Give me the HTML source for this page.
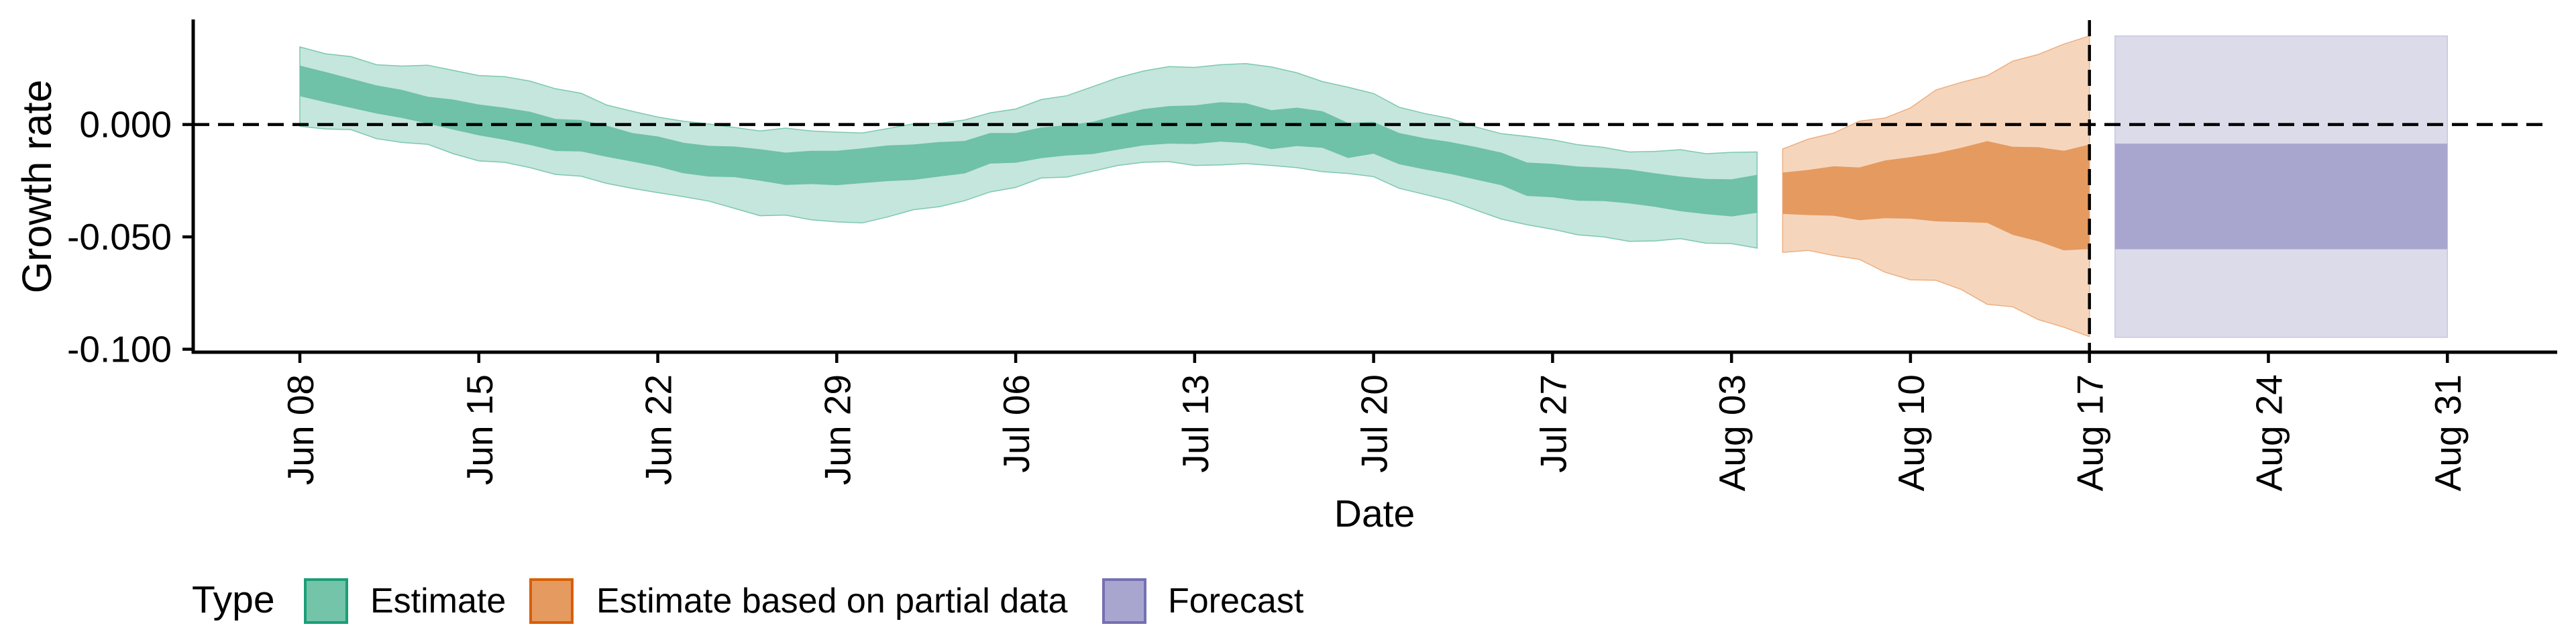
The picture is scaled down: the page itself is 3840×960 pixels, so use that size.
<!DOCTYPE html>
<html><head><meta charset="utf-8"><style>
html,body{margin:0;padding:0;background:#fff;}
svg{display:block;font-family:"Liberation Sans",sans-serif;}
</style></head><body>
<svg id="chart" width="3840" height="960" viewBox="0 0 3840 960"></svg>
<script>
// ---- data (growth rate) ----
const estStartDay = 0; // Jun 08
const estOuterUpper = [0.0345,0.0315,0.0302,0.0266,0.0260,0.0264,0.0241,0.0218,0.0213,0.0193,0.0159,0.0139,0.0087,0.0059,0.0033,0.0015,0.0002,-0.0013,-0.0029,-0.0016,-0.0029,-0.0034,-0.0038,-0.0018,0.0003,0.0005,0.0020,0.0052,
0.0069,0.0111,0.0128,0.0168,0.0208,0.0238,0.0258,0.0254,0.0266,0.0271,0.0256,0.0230,0.0191,0.0166,0.0138,0.0077,0.0049,0.0027,-0.0011,-0.0041,-0.0053,-0.0068,-0.0090,-0.0102,-0.0122,-0.0120,-0.0112,-0.0130,-0.0124,-0.0122];
const estInnerUpper = [0.0262,0.0234,0.0204,0.0174,0.0154,0.0124,0.0111,0.0089,0.0075,0.0057,0.0025,0.0020,-0.0005,-0.0038,-0.0053,-0.0081,-0.0095,-0.0098,-0.0110,-0.0125,-0.0117,-0.0117,-0.0106,-0.0093,-0.0089,-0.0078,-0.0073,-0.0038,
-0.0038,-0.0013,-0.0003,0.0012,0.0042,0.0069,0.0082,0.0085,0.0099,0.0095,0.0064,0.0075,0.0059,0.0007,0.0012,-0.0038,-0.0061,-0.0078,-0.0100,-0.0125,-0.0169,-0.0175,-0.0187,-0.0192,-0.0200,-0.0217,-0.0232,-0.0242,-0.0244,-0.0224];
const estInnerLower = [0.0126,0.0099,0.0074,0.0049,0.0029,0.0004,-0.0023,-0.0048,-0.0068,-0.0091,-0.0118,-0.0120,-0.0144,-0.0165,-0.0187,-0.0217,-0.0232,-0.0234,-0.0250,-0.0269,-0.0265,-0.0270,-0.0261,-0.0252,-0.0247,-0.0232,-0.0218,-0.0174,
-0.0170,-0.0150,-0.0138,-0.0132,-0.0112,-0.0093,-0.0085,-0.0087,-0.0076,-0.0083,-0.0110,-0.0096,-0.0104,-0.0149,-0.0130,-0.0177,-0.0200,-0.0220,-0.0245,-0.0270,-0.0318,-0.0324,-0.0339,-0.0341,-0.0351,-0.0366,-0.0386,-0.0399,-0.0409,-0.0393];
const estOuterLower = [-0.0008,-0.0020,-0.0023,-0.0063,-0.0080,-0.0088,-0.0130,-0.0162,-0.0168,-0.0192,-0.0222,-0.0230,-0.0262,-0.0284,-0.0303,-0.0321,-0.0341,-0.0373,-0.0406,-0.0403,-0.0424,-0.0433,-0.0438,-0.0411,-0.0379,-0.0366,-0.0339,-0.0300,
-0.0280,-0.0238,-0.0234,-0.0208,-0.0182,-0.0168,-0.0165,-0.0182,-0.0180,-0.0174,-0.0182,-0.0192,-0.0210,-0.0218,-0.0232,-0.0284,-0.0311,-0.0339,-0.0381,-0.0421,-0.0446,-0.0466,-0.0491,-0.0500,-0.0520,-0.0518,-0.0508,-0.0528,-0.0530,-0.0550];
const partStartDay = 58; // Aug 05
const partOuterUpper = [-0.0109,-0.0065,-0.0038,0.0015,0.0029,0.0074,0.0154,0.0188,0.0217,0.0282,0.0312,0.0358,0.0394];
const partInnerUpper = [-0.0214,-0.0202,-0.0186,-0.0191,-0.0160,-0.0145,-0.0128,-0.0103,-0.0074,-0.0099,-0.0101,-0.0117,-0.0089];
const partInnerLower = [-0.0398,-0.0403,-0.0406,-0.0426,-0.0417,-0.0419,-0.0431,-0.0434,-0.0438,-0.0491,-0.0520,-0.0560,-0.0554];
const partOuterLower = [-0.0569,-0.0560,-0.0583,-0.0600,-0.0657,-0.0691,-0.0693,-0.0735,-0.0800,-0.0811,-0.0868,-0.0902,-0.0944];
const fcDays = [71, 84];
const fcOuter = [0.0394, -0.0947];
const fcInner = [-0.0085, -0.0555];
const yTicks = [0, -0.05, -0.1];
const yTickLabels = ["0.000", "-0.050", "-0.100"];
const xTickDays = [0, 7, 14, 21, 28, 35, 42, 49, 56, 63, 70, 77, 84];
const xTickLabels = ["Jun 08","Jun 15","Jun 22","Jun 29","Jul 06","Jul 13","Jul 20","Jul 27","Aug 03","Aug 10","Aug 17","Aug 24","Aug 31"];
const cutoffDay = 70;

// ---- scales ----
const X0 = 447, PXD = 38.11, Y0 = 185.6, PYU = 3350;
const xS = d => X0 + d * PXD;
const yS = v => Y0 - v * PYU;
const NS = "http://www.w3.org/2000/svg";
const svg = document.getElementById('chart');
function mk(tag, attrs, parent) {
  const e = document.createElementNS(NS, tag);
  for (const k in attrs) e.setAttribute(k, attrs[k]);
  (parent || svg).appendChild(e);
  return e;
}
function ribbon(start, up, lo, fill, stroke, name) {
  const pts = [];
  up.forEach((v, i) => pts.push(xS(start + i).toFixed(1) + "," + yS(v).toFixed(1)));
  for (let i = lo.length - 1; i >= 0; i--) pts.push(xS(start + i).toFixed(1) + "," + yS(lo[i]).toFixed(1));
  const p = mk('polygon', {points: pts.join(' '), fill: fill, stroke: stroke, 'stroke-width': stroke === 'none' ? 0 : 1.5});
  
  
}
ribbon(estStartDay, estOuterUpper, estOuterLower, '#c5e6dc', '#7cc8b0', 'estimate-outer-ribbon');
ribbon(estStartDay, estInnerUpper, estInnerLower, '#6fc1a8', 'none', 'estimate-inner-ribbon');
ribbon(partStartDay, partOuterUpper, partOuterLower, '#f5d6bd', '#eeae80', 'partial-outer-ribbon');
ribbon(partStartDay, partInnerUpper, partInnerLower, '#e59a60', 'none', 'partial-inner-ribbon');
let r = mk('rect', {x: xS(fcDays[0]), y: yS(fcOuter[0]), width: xS(fcDays[1]) - xS(fcDays[0]), height: yS(fcOuter[1]) - yS(fcOuter[0]), fill: '#dcdbea', stroke: '#c8c6e2', 'stroke-width': 1.5});


r = mk('rect', {x: xS(fcDays[0]), y: yS(fcInner[0]), width: xS(fcDays[1]) - xS(fcDays[0]), height: yS(fcInner[1]) - yS(fcInner[0]), fill: '#a8a6cf'});



// reference lines
let l = mk('line', {x1: 288, x2: 3800, y1: yS(0), y2: yS(0), stroke: '#000', 'stroke-width': 4.5, 'stroke-dasharray': '24 13'});


l = mk('line', {x1: xS(cutoffDay), x2: xS(cutoffDay), y1: 30, y2: 525, stroke: '#000', 'stroke-width': 4.5, 'stroke-dasharray': '24 13'});



// axes
l = mk('line', {x1: 288, x2: 288, y1: 29, y2: 527, stroke: '#000', 'stroke-width': 5});


l = mk('line', {x1: 286, x2: 3812, y1: 525, y2: 525, stroke: '#000', 'stroke-width': 5});



yTicks.forEach((v, i) => {
  const t = mk('line', {x1: 272, x2: 288, y1: yS(v), y2: yS(v), stroke: '#000', 'stroke-width': 4.5});
  
  
  const tx = mk('text', {x: 256, y: yS(v) + 19, 'text-anchor': 'end', 'font-size': 55, fill: '#000'});
  tx.textContent = yTickLabels[i];
  
  
});
xTickDays.forEach((d, i) => {
  const x = xS(d);
  const t = mk('line', {x1: x, x2: x, y1: 525, y2: 541, stroke: '#000', 'stroke-width': 4.5});
  
  
  const tx = mk('text', {x: 0, y: 0, 'text-anchor': 'end', 'font-size': 55, fill: '#000', transform: `translate(${x + 20},558) rotate(-90)`});
  tx.textContent = xTickLabels[i];
  
  
});
</script>
<svg style="position:absolute;left:0;top:0" width="3840" height="960">
  <text x="76" y="278" transform="rotate(-90 76 278)" text-anchor="middle" font-size="61" font-family="Liberation Sans, sans-serif">Growth rate</text>
  <text x="2049" y="785" text-anchor="middle" font-size="57" font-family="Liberation Sans, sans-serif">Date</text>
  <g font-family="Liberation Sans, sans-serif">
    <text x="286" y="913" font-size="57">Type</text>
    <rect x="455" y="864" width="62" height="64" fill="#73c4a9" stroke="#1b9e77" stroke-width="4"/>
    <text x="552" y="913" font-size="52">Estimate</text>
    <rect x="791" y="864" width="62" height="64" fill="#e59a60" stroke="#d95f02" stroke-width="4"/>
    <text x="889" y="913" font-size="52">Estimate based on partial data</text>
    <rect x="1645" y="864" width="62" height="64" fill="#a8a6cf" stroke="#7570b3" stroke-width="4"/>
    <text x="1741" y="913" font-size="52">Forecast</text>
  </g>
</svg>
</body></html>
